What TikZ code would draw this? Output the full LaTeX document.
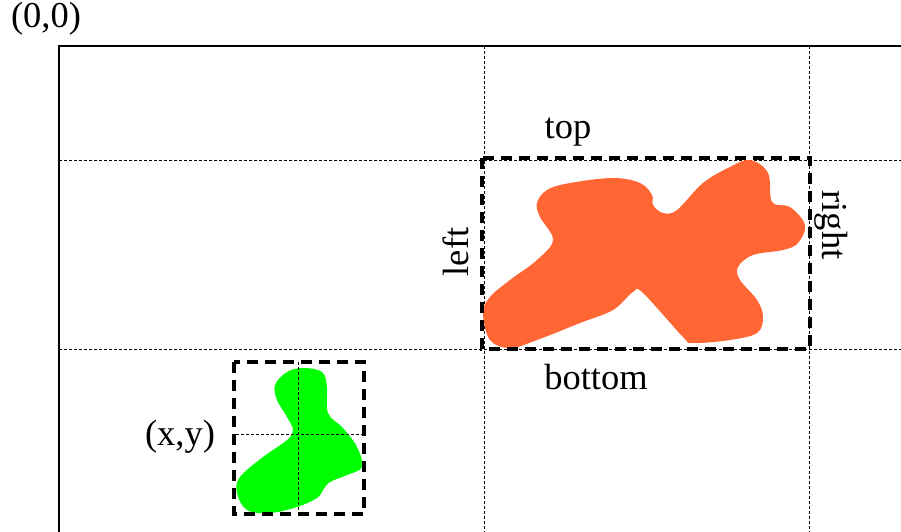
\documentclass[tikz,border=0pt]{standalone}
\usepackage{fontspec}
\setmainfont{Liberation Serif}
\usetikzlibrary{positioning}
\definecolor{BlobOrange}{HTML}{FF6633}
\definecolor{BlobGreen}{HTML}{00FF00}
\definecolor{Ink}{HTML}{000000}

\begin{document}
\begin{tikzpicture}[
    x=1pt,
    y=-1pt,
    font=\fontsize{36.5}{40}\selectfont,
    every node/.style={text=Ink, inner sep=0pt},
    frameline/.style={draw=Ink, line width=1.3pt},
    guideline/.style={draw=Ink, line width=0.9pt, dash pattern=on 3pt off 2pt},
    boxline/.style={draw=Ink, line width=4.5pt, dash pattern=on 11pt off 7pt},
    orangeblob/.style={fill=BlobOrange, draw=none},
    greenblob/.style={fill=BlobGreen, draw=none},
    sidelabel/.style={anchor=center}
]

\fill[white] (0,0) rectangle (901,532);
\useasboundingbox (0,0) rectangle (901,532);

% frame corner and guides
\coordinate (origin) at (59,46);
\coordinate (bl) at (482,158);
\coordinate (tr) at (810,349);

\draw[guideline] (484,46) -- (484,532);
\draw[guideline] (809,46) -- (809,532);
\draw[guideline] (59,160) -- (901,160);
\draw[guideline] (59,349) -- (901,349);
\draw[frameline] (59,532) -- (origin) -- (901,46);

% orange object
\fill[orangeblob] plot[smooth cycle, tension=0.6] coordinates {
    (750,160) (768,173) (772,202) (790,207) (805,225) (798,243) (783,250)
    (753,255) (738,267) (740,280) (757,300) (763,317) (757,333) (730,340)
    (693,343) (683,337) (643,293) (633,292) (613,310) (580,323) (537,340)
    (510,348) (490,340) (483,313) (490,297) (510,280) (537,260) (553,240)
    (540,217) (537,203) (547,190) (570,183) (613,178) (640,183) (652,195)
    (653,205) (663,213) (677,210) (703,183) (730,167)};
\draw[boxline] (bl) rectangle (tr);

\node[sidelabel] (top) at (568,132) {top};
\node[sidelabel] (bottom) at (596,377) {bottom};
\node[sidelabel, rotate=90] (left) at (456,252) {left};
\node[sidelabel, rotate=-90] (right) at (831,225) {right};

% green object
\fill[greenblob] plot[smooth cycle, tension=0.6] coordinates {
    (287,372) (303,368) (322,372) (327,387) (328,413) (343,428) (357,447)
    (362,467) (347,475) (330,482) (323,490) (317,498) (297,507) (270,513)
    (247,510) (237,493) (240,477) (263,457) (287,440) (293,430) (287,417)
    (277,400) (275,385)};
\draw[guideline] (298,362) -- (298,514);
\draw[guideline] (236,434) -- (362,434);
\draw[boxline] (234,362) rectangle (364,514);

\node[sidelabel] (corner) at (46,19) {(0,0)};
\node[sidelabel] (xy) at (180,437) {(x,y)};

\end{tikzpicture}
\end{document}
